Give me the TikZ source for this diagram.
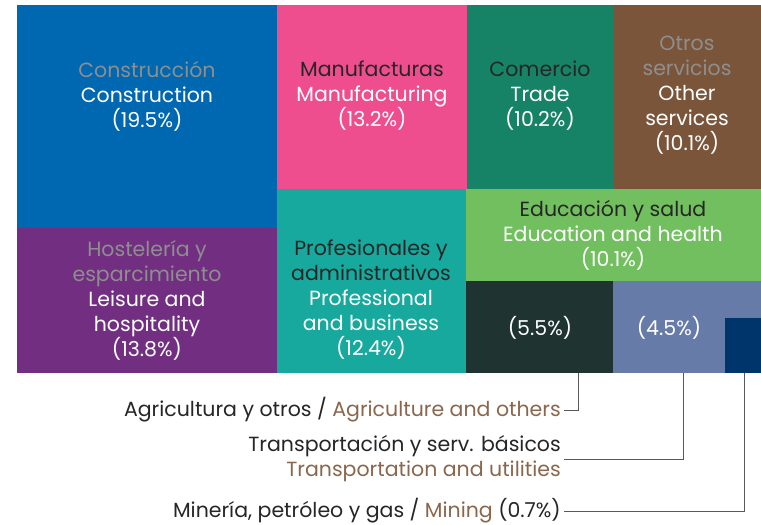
\documentclass[tikz,border=0pt]{standalone}
\usepackage{fontspec}
\setmainfont{Poppins}
\usetikzlibrary{positioning}

\definecolor{constrblue}{HTML}{0067B1}
\definecolor{manufpink}{HTML}{EE4E8E}
\definecolor{comergreen}{HTML}{168266}
\definecolor{otrosbrown}{HTML}{7A553A}
\definecolor{leispurple}{HTML}{722F82}
\definecolor{profteal}{HTML}{17A99D}
\definecolor{educgreen}{HTML}{72BF5F}
\definecolor{agridark}{HTML}{1F3330}
\definecolor{transblue}{HTML}{677BA8}
\definecolor{miningnavy}{HTML}{00356B}
\definecolor{esgray}{HTML}{8E8E8E}
\definecolor{esdark}{HTML}{262626}
\definecolor{enbrown}{HTML}{8A674C}

\begin{document}
\begin{tikzpicture}[x=1pt, y=-1pt,
    cell/.style={anchor=north west, inner sep=0pt, outer sep=0pt},
    txt/.style={align=center, text=white, font=\fontsize{20.5}{25}\selectfont},
    lbl/.style={anchor=east, align=right, text=esdark, inner sep=0pt, inner xsep=3pt,
                font=\fontsize{20.5}{25}\selectfont},
    leader/.style={draw=black!65, line width=0.8pt}]

	\useasboundingbox (0,0) rectangle (761,525);
	\fill[white] (0,0) rectangle (761,525);

	% treemap cells
	\node[cell, fill=constrblue, minimum width=260pt, minimum height=223pt] (constr) at (17,5)   {};
	\node[cell, fill=manufpink,  minimum width=190pt, minimum height=184pt] (manuf)  at (277,5)  {};
	\node[cell, fill=comergreen, minimum width=147pt, minimum height=184pt] (comer)  at (467,5)  {};
	\node[cell, fill=otrosbrown, minimum width=147pt, minimum height=184pt] (otros)  at (614,5)  {};
	\node[cell, fill=leispurple, minimum width=260pt, minimum height=145pt] (leis)   at (17,228) {};
	\node[cell, fill=profteal,   minimum width=189pt, minimum height=184pt] (prof)   at (277,189) {};
	\node[cell, fill=educgreen,  minimum width=295pt, minimum height=92pt]  (educ)   at (466,189) {};
	\node[cell, fill=agridark,   minimum width=147pt, minimum height=92pt]  (agri)   at (466,281) {};
	\node[cell, fill=transblue,  minimum width=148pt, minimum height=92pt]  (trans)  at (613,281) {};
	\node[cell, fill=miningnavy, minimum width=36pt,  minimum height=55pt]  (mining) at (725,318) {};

	% cell texts
	\node[txt] (constrtxt) at (147,96)  {{\color{esgray}Construcción}\\Construction\\(19.5\%)};
	\node[txt] (manuftxt)  at (372,96)  {{\color{esdark}Manufacturas}\\Manufacturing\\(13.2\%)};
	\node[txt] (comertxt)  at (540,96)  {{\color{esdark}Comercio}\\Trade\\(10.2\%)};
	\node[txt] (otrostxt)  at (687,95)  {{\color{esgray}Otros}\\{\color{esgray}servicios}\\Other\\services\\(10.1\%)};
	\node[txt] (leistxt)   at (147,300) {{\color{esgray}Hostelería y}\\{\color{esgray}esparcimiento}\\Leisure and\\hospitality\\(13.8\%)};
	\node[txt] (proftxt)   at (371,300) {{\color{esdark}Profesionales y}\\{\color{esdark}administrativos}\\Professional\\and business\\(12.4\%)};
	\node[txt] (eductxt)   at (613,235) {{\color{esdark}Educación y salud}\\Education and health\\(10.1\%)};
	\node[txt] (agritxt)   at (540,328) {(5.5\%)};
	\node[txt] (transtxt)  at (669,328) {(4.5\%)};

	% labels for the small cells
	\node[lbl] (agrilbl)   at (564,410) {Agricultura y otros / {\color{enbrown}Agriculture and others}};
	\node[lbl] (translbl)  at (564,459) {Transportación y serv. básicos\\{\color{enbrown}Transportation and utilities}};
	\node[lbl] (mininglbl) at (564,511) {Minería, petróleo y gas / {\color{enbrown}Mining} (0.7\%)};

	\draw[leader] (agrilbl.east)   -| ([xshift=38.5pt]agri.south);
	\draw[leader] (translbl.east)  -| ([xshift=-4pt]trans.south);
	\draw[leader] (mininglbl.east) -| ([xshift=1pt]mining.south);
\end{tikzpicture}
\end{document}
